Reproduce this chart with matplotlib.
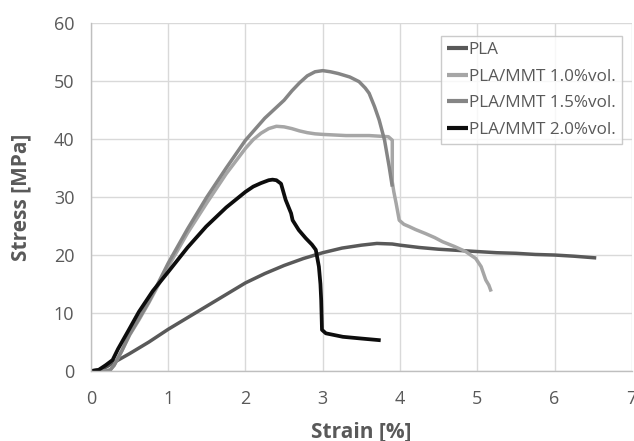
import matplotlib
matplotlib.use("Agg")
import matplotlib.pyplot as plt

plt.rcParams['font.family'] = ['Open Sans', 'DejaVu Sans']

labels = ["PLA", "PLA/MMT 1.0%vol.", "PLA/MMT 1.5%vol.", "PLA/MMT 2.0%vol."]
colors = ["#595959", "#a6a6a6", "#858585", "#0d0d0d"]

pla_x = [0, 0.1, 0.2, 0.3, 0.5, 0.75, 1.0, 1.25, 1.5, 1.75, 2.0, 2.25, 2.5, 2.75, 3.0, 3.25,
         3.5, 3.7, 3.9, 4.0, 4.25, 4.5, 4.75, 5.0, 5.25, 5.5, 5.75, 6.0, 6.25, 6.54]
pla_y = [0, 0.2, 0.7, 1.5, 3.0, 5.0, 7.2, 9.2, 11.2, 13.2, 15.2, 16.8, 18.2, 19.4, 20.4, 21.2,
         21.7, 22.0, 21.9, 21.7, 21.3, 21.0, 20.8, 20.6, 20.4, 20.3, 20.1, 20.0, 19.8, 19.5]

m10_x = [0, 0.1, 0.2, 0.25, 0.3, 0.4, 0.5, 0.62, 0.75, 1.0, 1.25, 1.5, 1.75, 2.0, 2.1, 2.2,
         2.3, 2.4, 2.5, 2.6, 2.7, 2.8, 2.9, 3.0, 3.3, 3.6, 3.85, 3.9, 3.9, 3.92, 3.95, 3.99,
         4.05, 4.12, 4.2, 4.33, 4.45, 4.55, 4.7, 4.85, 4.98, 5.05, 5.11, 5.15, 5.18]
m10_y = [0, 0, 0, 0.2, 1.0, 3.5, 6.2, 8.8, 11.8, 18.0, 23.8, 29.0, 34.0, 38.4, 39.9, 41.0,
         41.8, 42.2, 42.1, 41.8, 41.4, 41.1, 40.9, 40.8, 40.6, 40.6, 40.4, 39.8, 32.6, 30.9,
         28.9, 26.0, 25.3, 24.9, 24.4, 23.7, 23.0, 22.3, 21.5, 20.6, 19.4, 18.0, 15.7, 14.8, 13.7]

m15_x = [0, 0.1, 0.2, 0.25, 0.3, 0.4, 0.5, 0.62, 0.75, 1.0, 1.25, 1.5, 1.75, 2.0, 2.25, 2.5,
         2.6, 2.7, 2.8, 2.9, 3.0, 3.1, 3.2, 3.35, 3.47, 3.55, 3.6, 3.67, 3.73, 3.8, 3.86, 3.9]
m15_y = [0, 0, 0, 0.2, 1.0, 3.5, 6.3, 9.0, 12.0, 18.6, 24.5, 30.0, 35.0, 39.8, 43.6, 46.7,
         48.3, 49.7, 50.9, 51.6, 51.8, 51.6, 51.3, 50.7, 49.9, 48.8, 47.9, 45.6, 43.3, 39.8,
         35.2, 31.8]

m20_x = [0, 0.1, 0.19, 0.28, 0.35, 0.49, 0.62, 0.8, 1.0, 1.25, 1.49, 1.75, 2.0, 2.1, 2.2,
         2.3, 2.35, 2.4, 2.46, 2.52, 2.59, 2.61, 2.69, 2.78, 2.86, 2.91, 2.95, 2.97, 2.98,
         2.99, 3.04, 3.26, 3.5, 3.75]
m20_y = [0, 0.2, 1.0, 1.9, 3.8, 7.1, 10.2, 13.8, 17.1, 21.3, 24.9, 28.2, 30.9, 31.8, 32.4,
         32.9, 33.0, 32.9, 32.3, 29.5, 27.2, 26.0, 24.3, 22.9, 21.8, 20.9, 18.0, 15.0, 12.2,
         7.1, 6.5, 5.9, 5.6, 5.3]

x_ticks = [0, 1, 2, 3, 4, 5, 6, 7]
y_ticks = [0, 10, 20, 30, 40, 50, 60]

fig = plt.figure(figsize=(6.34, 4.41), dpi=100)
ax = fig.add_axes([0.1435, 0.1587, 0.853, 0.789])

series = [(pla_x, pla_y), (m10_x, m10_y), (m15_x, m15_y), (m20_x, m20_y)]
for (xs, ys), lab, c in zip(series, labels, colors):
    ax.plot(xs, ys, color=c, lw=2.5 if c != "#0d0d0d" else 2.7, label=lab,
            solid_capstyle='butt', solid_joinstyle='round')

ax.set_xlim(0, 7)
ax.set_ylim(0, 60)
ax.set_xticks(x_ticks)
ax.set_yticks(y_ticks)
ax.grid(True, color="#d9d9d9", lw=1.0)
ax.set_axisbelow(True)
for s in ['top', 'right']:
    ax.spines[s].set_visible(False)
for s in ['left', 'bottom']:
    ax.spines[s].set_color("#bfbfbf")
    ax.spines[s].set_linewidth(1.0)
ax.tick_params(axis='y', length=0, labelsize=13, labelcolor="#595959", pad=12)
ax.tick_params(axis='x', length=0, labelsize=13, labelcolor="#595959", pad=14)
ax.set_xlabel("Strain [%]", fontsize=15, fontweight='bold', color="#595959", labelpad=9)
ax.set_ylabel("Stress [MPa]", fontsize=15, fontweight='bold', color="#595959", labelpad=16)

leg = ax.legend(loc='upper right', bbox_to_anchor=(0.981, 0.962), fontsize=12.3,
                frameon=True, fancybox=False, handlelength=1.2, handletextpad=0.05,
                labelspacing=0.62, borderpad=0.35, borderaxespad=0)
leg.get_frame().set_edgecolor("#bfbfbf")
leg.get_frame().set_linewidth(1.0)
for t in leg.get_texts():
    t.set_color("#595959")
for h in leg.get_lines():
    h.set_linewidth(3.0)

fig.savefig("out.png", dpi=100)
